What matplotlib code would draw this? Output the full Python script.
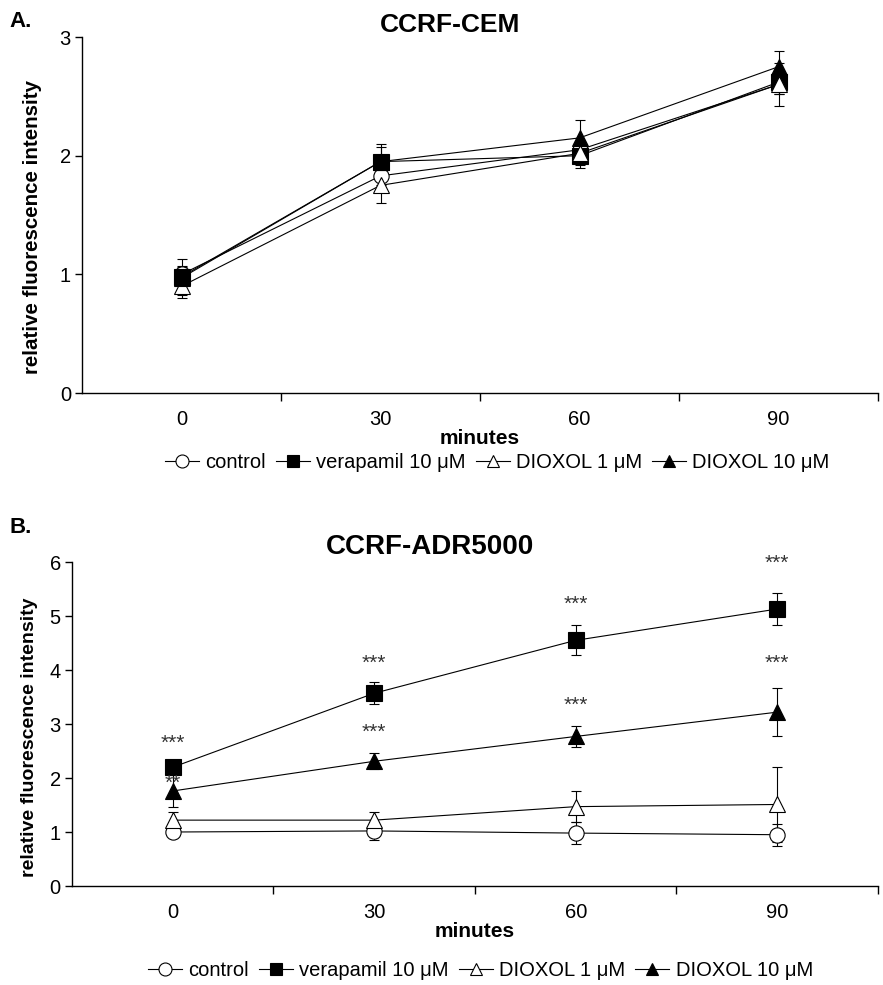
import matplotlib
matplotlib.use("Agg")
import matplotlib.pyplot as plt
import numpy as np

FONT = 'Liberation Sans'

minutes = ['0', '30', '60', '90']
series = ['control', 'verapamil 10 μM', 'DIOXOL 1 μM', 'DIOXOL 10 μM']

# Panel A: CCRF-CEM
a_control = [1.00, 1.83, 2.05, 2.60]
a_verapamil = [0.98, 1.95, 2.00, 2.62]
a_diox1 = [0.90, 1.75, 2.02, 2.60]
a_diox10 = [0.97, 1.95, 2.15, 2.75]
a_control_err = [0.06, 0.08, 0.06, 0.08]
a_verapamil_err = [0.15, 0.15, 0.10, 0.10]
a_diox1_err = [0.10, 0.15, 0.10, 0.18]
a_diox10_err = [0.10, 0.12, 0.15, 0.13]

# Panel B: CCRF-ADR5000
b_control = [1.00, 1.02, 0.98, 0.95]
b_verapamil = [2.20, 3.57, 4.55, 5.13]
b_diox1 = [1.22, 1.22, 1.47, 1.51]
b_diox10 = [1.76, 2.31, 2.77, 3.22]
b_control_err = [0.10, 0.17, 0.20, 0.20]
b_verapamil_err = [0.10, 0.20, 0.28, 0.30]
b_diox1_err = [0.15, 0.15, 0.29, 0.70]
b_diox10_err = [0.30, 0.15, 0.20, 0.45]

# significance labels (panel B)
b_verapamil_sig = ['***', '***', '***', '***']
b_verapamil_sig_y = [2.69, 4.17, 5.26, 6.02]
b_diox10_sig = ['**', '***', '***', '***']
b_diox10_sig_y = [1.96, 2.89, 3.40, 4.17]

styles = [
    dict(marker='o', mfc='white', mec='black'),
    dict(marker='s', mfc='black', mec='black'),
    dict(marker='^', mfc='white', mec='black'),
    dict(marker='^', mfc='black', mec='black'),
]

fig = plt.figure(figsize=(8.83, 9.85), dpi=100)

def draw(ax, data, errs, ymax, ylabel_x, ylabel_y, ylabel_size):
    x = np.arange(len(minutes))
    handles = []
    for vals, err, st, name in zip(data, errs, styles, series):
        ax.errorbar(x, vals, yerr=err, fmt='none', ecolor='black', elinewidth=0.8,
                    capsize=3.5, capthick=0.8, zorder=2)
        h, = ax.plot(x, vals, color='black', lw=0.8, ms=11, mew=0.8, zorder=3,
                     label=name, **st)
        handles.append(h)
    ax.set_xlim(-0.5, 3.5)
    ax.set_ylim(0, ymax)
    ax.spines['top'].set_visible(False)
    ax.spines['right'].set_visible(False)
    ax.spines['left'].set_linewidth(1.0)
    ax.spines['bottom'].set_linewidth(1.0)
    ax.set_xticks(x)
    ax.set_xticklabels(minutes, fontfamily=FONT, fontsize=14.5)
    ax.tick_params(axis='x', which='major', length=0, pad=12)
    ax.set_xticks([0.5, 1.5, 2.5, 3.5], minor=True)
    ax.tick_params(axis='x', which='minor', length=6, direction='out', width=1)
    ax.set_yticks(range(0, ymax + 1))
    ax.set_yticklabels([str(v) for v in range(0, ymax + 1)], fontfamily=FONT, fontsize=14.5)
    ax.tick_params(axis='y', length=5, width=1, direction='out', pad=3)
    ax.set_xlabel('minutes', fontfamily=FONT, fontsize=15, fontweight='bold', labelpad=0)
    ax.set_ylabel('relative fluorescence intensity', fontfamily=FONT,
                  fontsize=ylabel_size, fontweight='bold')
    ax.yaxis.set_label_coords(ylabel_x, ylabel_y)
    return handles

axA = fig.add_axes([0.0929, 0.601, 0.9015, 0.3614])
hA = draw(axA, [a_control, a_verapamil, a_diox1, a_diox10],
          [a_control_err, a_verapamil_err, a_diox1_err, a_diox10_err], 3, -0.05, 0.466, 14.8)
axA.set_title('CCRF-CEM', fontfamily=FONT, fontsize=19, fontweight='bold', pad=-2, x=0.462)
fig.text(0.011, 0.973, 'A.', fontfamily=FONT, fontsize=16, fontweight='bold')

axB = fig.add_axes([0.0815, 0.1005, 0.9128, 0.3289])
hB = draw(axB, [b_control, b_verapamil, b_diox1, b_diox10],
          [b_control_err, b_verapamil_err, b_diox1_err, b_diox10_err], 6, -0.042, 0.46, 14)
axB.set_title('CCRF-ADR5000', fontfamily=FONT, fontsize=20, fontweight='bold', pad=6, x=0.444)
fig.text(0.011, 0.459, 'B.', fontfamily=FONT, fontsize=16, fontweight='bold')

for labels, ys in ((b_verapamil_sig, b_verapamil_sig_y), (b_diox10_sig, b_diox10_sig_y)):
    for i, (s, y) in enumerate(zip(labels, ys)):
        axB.text(i, y - 0.05, s, ha='center', va='center', fontsize=15, color='#333333',
                 fontfamily=FONT)

legkw = dict(loc='center', ncol=4, frameon=False, handlelength=1.7, handletextpad=0.3,
             columnspacing=0.5, prop=dict(family=FONT, size=14.5), markerscale=0.85)
fig.legend(handles=hA, bbox_to_anchor=(0.563, 0.530), **legkw)
fig.legend(handles=hB, bbox_to_anchor=(0.544, 0.015), **legkw)

fig.savefig('out.png', dpi=100)
